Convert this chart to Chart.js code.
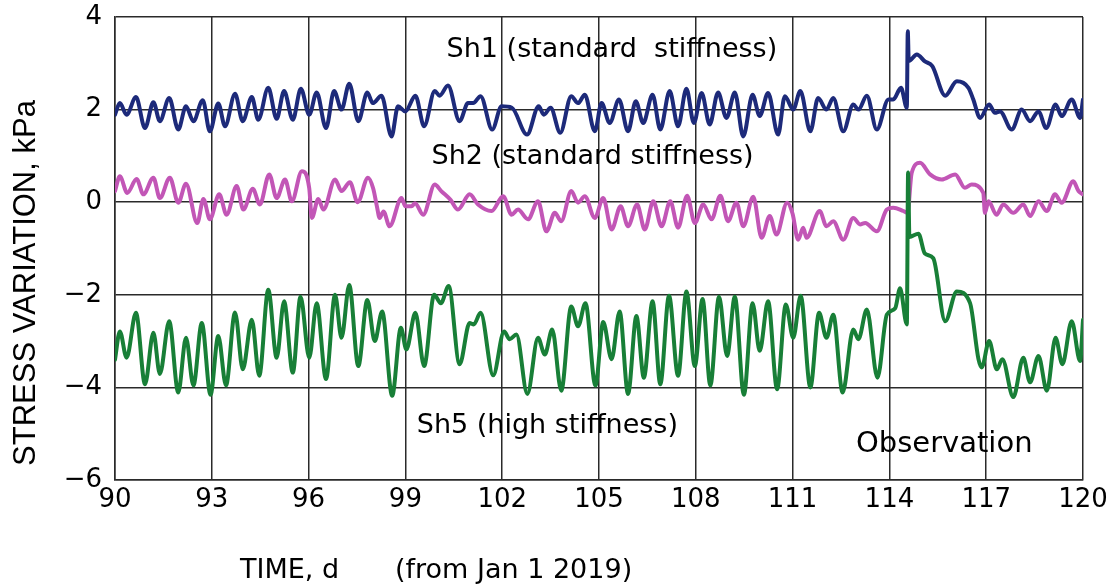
<!DOCTYPE html>
<html>
<head>
<meta charset="utf-8">
<script src="https://cdn.jsdelivr.net/npm/chart.js@4.4.1/dist/chart.umd.min.js"></script>
<style>
  html, body { margin: 0; padding: 0; background: #fff; }
  #wrap { width: 1113px; height: 584px; }
</style>
</head>
<body>
<div id="wrap"><canvas id="stressChart" width="1113" height="584"></canvas></div>
<script>
// values (day, kPa)
const sh1Days = [90.0, 90.15, 90.36, 90.65, 90.93, 91.19, 91.39, 91.68, 91.96, 92.2, 92.43, 92.72, 92.94, 93.2, 93.41, 93.72, 93.96, 94.24, 94.44, 94.75, 95.01, 95.24, 95.51, 95.76, 96.02, 96.25, 96.54, 96.79, 97.02, 97.26, 97.54, 97.82, 97.99, 98.26, 98.57, 98.77, 99.0, 99.31, 99.58, 99.91, 100.06, 100.32, 100.68, 100.94, 101.1, 101.33, 101.69, 101.98, 102.3, 102.77, 103.13, 103.29, 103.5, 103.8, 104.14, 104.35, 104.56, 104.87, 105.08, 105.33, 105.62, 105.9, 106.14, 106.37, 106.66, 106.9, 107.19, 107.45, 107.71, 107.94, 108.18, 108.43, 108.69, 108.95, 109.21, 109.47, 109.76, 109.98, 110.24, 110.55, 110.76, 111.02, 111.24, 111.55, 111.79, 112.05, 112.26, 112.57, 112.88, 113.04, 113.3, 113.61, 113.97, 114.12, 114.36, 114.54, 114.57, 114.6, 114.85, 115.1, 115.33, 115.73, 116.09, 116.45, 116.6, 116.81, 117.09, 117.27, 117.43, 117.79, 118.1, 118.36, 118.62, 118.86, 119.15, 119.34, 119.65, 119.91, 120.0];
const sh1Vals = [1.89, 2.14, 1.89, 2.27, 1.6, 2.16, 1.75, 2.25, 1.57, 2.07, 1.75, 2.2, 1.53, 2.13, 1.64, 2.34, 1.75, 2.27, 1.78, 2.47, 1.8, 2.4, 1.78, 2.45, 1.89, 2.37, 1.6, 2.4, 2.0, 2.56, 1.75, 2.37, 2.14, 2.3, 1.42, 2.07, 1.96, 2.3, 1.64, 2.4, 2.3, 2.52, 1.75, 2.14, 2.14, 2.29, 1.57, 2.07, 2.04, 1.46, 2.07, 1.89, 2.04, 1.5, 2.29, 2.14, 2.32, 1.53, 2.14, 1.71, 2.22, 1.53, 2.18, 1.71, 2.32, 1.57, 2.4, 1.64, 2.45, 1.71, 2.36, 1.68, 2.37, 1.82, 2.37, 1.42, 2.32, 1.86, 2.36, 1.46, 2.29, 2.0, 2.4, 1.53, 2.25, 2.0, 2.25, 1.53, 2.11, 2.0, 2.3, 1.57, 2.22, 2.22, 2.47, 2.04, 3.69, 3.05, 3.19, 3.04, 2.94, 2.3, 2.61, 2.47, 2.22, 1.82, 2.11, 1.93, 1.96, 1.57, 2.0, 1.75, 1.96, 1.6, 2.11, 1.86, 2.22, 1.82, 2.22];

const sh2Days = [90.0, 90.15, 90.38, 90.67, 90.88, 91.19, 91.39, 91.7, 91.96, 92.2, 92.55, 92.74, 92.94, 93.23, 93.46, 93.77, 93.98, 94.27, 94.49, 94.78, 95.01, 95.27, 95.48, 95.79, 96.02, 96.1, 96.3, 96.46, 96.82, 97.02, 97.28, 97.52, 97.84, 98.0, 98.12, 98.2, 98.32, 98.51, 98.88, 99.0, 99.19, 99.3, 99.55, 99.91, 100.11, 100.4, 100.63, 100.99, 101.25, 101.67, 102.03, 102.29, 102.49, 102.8, 103.11, 103.37, 103.63, 103.83, 104.14, 104.35, 104.56, 104.87, 105.13, 105.39, 105.67, 105.9, 106.18, 106.42, 106.68, 106.94, 107.21, 107.45, 107.73, 107.97, 108.23, 108.49, 108.76, 109.0, 109.26, 109.47, 109.78, 110.04, 110.29, 110.5, 110.83, 111.0, 111.17, 111.33, 111.43, 111.84, 112.05, 112.26, 112.57, 112.88, 113.09, 113.25, 113.61, 113.92, 114.12, 114.43, 114.56, 114.69, 114.95, 115.26, 115.62, 116.04, 116.34, 116.55, 116.91, 116.96, 117.07, 117.32, 117.53, 117.84, 118.15, 118.36, 118.62, 118.88, 119.13, 119.34, 119.7, 119.86, 120.0];
const sh2Vals = [0.24, 0.56, 0.2, 0.5, 0.17, 0.53, 0.09, 0.53, -0.01, 0.4, -0.45, 0.07, -0.37, 0.17, -0.27, 0.35, -0.16, 0.29, -0.05, 0.6, 0.09, 0.49, 0.02, 0.67, 0.3, -0.34, 0.07, -0.16, 0.49, 0.24, 0.43, 0.0, 0.53, 0.3, -0.1, -0.34, -0.2, -0.52, 0.09, -0.09, -0.09, -0.02, -0.27, 0.38, 0.24, 0.05, -0.16, 0.17, -0.05, -0.19, 0.13, -0.27, -0.16, -0.37, 0.02, -0.63, -0.23, -0.41, 0.24, -0.01, 0.13, -0.34, 0.09, -0.59, -0.09, -0.52, -0.05, -0.59, 0.02, -0.52, 0.02, -0.55, 0.14, -0.45, -0.05, -0.37, 0.14, -0.41, -0.01, -0.52, 0.12, -0.77, -0.3, -0.7, -0.01, -0.25, -0.81, -0.55, -0.77, -0.19, -0.52, -0.41, -0.81, -0.34, -0.48, -0.45, -0.63, -0.16, -0.12, -0.19, -0.23, 0.63, 0.85, 0.6, 0.49, 0.6, 0.31, 0.38, 0.2, -0.23, 0.02, -0.27, -0.05, -0.23, -0.05, -0.3, 0.02, -0.19, 0.17, -0.01, 0.45, 0.24, 0.17];

const sh5Days = [90.0, 90.15, 90.36, 90.65, 90.93, 91.19, 91.39, 91.68, 91.96, 92.2, 92.43, 92.69, 92.96, 93.2, 93.44, 93.72, 93.96, 94.24, 94.47, 94.75, 95.01, 95.24, 95.51, 95.75, 96.02, 96.25, 96.54, 96.82, 97.02, 97.26, 97.54, 97.82, 98.05, 98.28, 98.59, 98.86, 99.03, 99.31, 99.58, 99.89, 100.1, 100.34, 100.68, 100.99, 101.12, 101.33, 101.72, 102.06, 102.23, 102.44, 102.78, 103.11, 103.32, 103.55, 103.83, 104.14, 104.35, 104.58, 104.89, 105.13, 105.39, 105.64, 105.9, 106.16, 106.39, 106.66, 106.9, 107.17, 107.45, 107.71, 107.97, 108.21, 108.45, 108.72, 108.97, 109.21, 109.49, 109.76, 109.98, 110.24, 110.52, 110.79, 111.02, 111.25, 111.55, 111.82, 112.05, 112.26, 112.55, 112.88, 113.04, 113.3, 113.63, 113.92, 114.18, 114.33, 114.54, 114.58, 114.62, 114.9, 115.1, 115.36, 115.73, 116.09, 116.5, 116.76, 116.86, 117.09, 117.33, 117.5, 117.84, 118.15, 118.36, 118.62, 118.88, 119.15, 119.36, 119.65, 119.91, 120.0];
const sh5Vals = [-3.4, -2.79, -3.36, -2.39, -3.93, -2.82, -3.71, -2.57, -4.11, -2.93, -3.96, -2.61, -4.16, -2.89, -3.96, -2.38, -3.61, -2.54, -3.75, -1.89, -3.36, -2.14, -3.68, -2.04, -3.36, -2.18, -3.82, -2.0, -2.93, -1.79, -3.54, -2.11, -3.0, -2.36, -4.18, -2.71, -3.18, -2.39, -3.54, -2.0, -2.18, -1.81, -3.5, -2.61, -2.64, -2.39, -3.74, -2.79, -2.96, -2.86, -4.14, -2.93, -3.29, -2.75, -4.07, -2.25, -2.68, -2.18, -3.96, -2.59, -3.39, -2.36, -4.14, -2.46, -3.79, -2.14, -3.93, -2.02, -3.75, -1.93, -3.54, -2.09, -3.96, -2.04, -3.32, -2.04, -4.16, -2.18, -3.21, -2.14, -4.04, -2.21, -2.93, -2.02, -4.0, -2.39, -2.93, -2.43, -4.11, -2.75, -2.96, -2.32, -3.79, -2.43, -2.29, -1.86, -2.64, 0.64, -0.75, -0.68, -1.11, -1.21, -2.57, -1.93, -2.18, -3.39, -3.57, -3.0, -3.61, -3.39, -4.21, -3.36, -3.89, -3.32, -4.07, -2.93, -3.5, -2.57, -3.43, -2.54];

const xTicks = [90, 93, 96, 99, 102, 105, 108, 111, 114, 117, 120];
const yTicks = [-6, -4, -2, 0, 2, 4];

const toPoints = (days, vals) => days.map((d, i) => ({ x: d, y: vals[i] }));

const sans = '"DejaVu Sans", Arial, sans-serif';
const tickFont = { family: sans, size: 26 };

// extra text: series notes and axis titles
const labelPlugin = {
  id: 'labels',
  afterDraw(chart) {
    const { ctx, scales: { x, y } } = chart;
    ctx.save();
    ctx.fillStyle = '#000';
    ctx.textBaseline = 'middle';
    ctx.textAlign = 'center';
    ctx.font = '27px ' + sans;
    ctx.fillText('Sh1 (standard  stiffness)', x.getPixelForValue(105.4), y.getPixelForValue(3.29));
    ctx.fillText('Sh2 (standard stiffness)', x.getPixelForValue(104.8), y.getPixelForValue(0.98));
    ctx.fillText('Sh5 (high stiffness)', x.getPixelForValue(103.4), y.getPixelForValue(-4.83));
    ctx.font = '29px ' + sans;
    ctx.fillText('Observation', x.getPixelForValue(115.7), y.getPixelForValue(-5.23));

    ctx.font = '27px ' + sans;
    ctx.textAlign = 'left';
    ctx.fillText('TIME, d', 240, 571);
    ctx.fillText('(from Jan 1 2019)', 395, 571);

    ctx.font = '31px "Liberation Sans", Arial, sans-serif';
    ctx.translate(26, 283);
    ctx.rotate(-Math.PI / 2);
    ctx.textAlign = 'center';
    ctx.fillText('STRESS VARIATION, kPa', 0, 0);
    ctx.restore();
  }
};

new Chart(document.getElementById('stressChart').getContext('2d'), {
  type: 'line',
  data: {
    datasets: [
      {
        label: 'Sh5',
        data: toPoints(sh5Days, sh5Vals),
        borderColor: '#187f37',
        borderWidth: 4
      },
      {
        label: 'Sh1',
        data: toPoints(sh1Days, sh1Vals),
        borderColor: '#1d2a7a',
        borderWidth: 4
      },
      {
        label: 'Sh2',
        data: toPoints(sh2Days, sh2Vals),
        borderColor: '#c256b6',
        borderWidth: 4
      }
    ]
  },
  options: {
    responsive: false,
    animation: false,
    layout: { padding: { top: 17, right: 30, left: 0, bottom: 0 } },
    elements: {
      point: { radius: 0 },
      line: { cubicInterpolationMode: 'monotone', borderJoinStyle: 'round', borderCapStyle: 'round' }
    },
    plugins: {
      legend: { display: false },
      tooltip: { enabled: false }
    },
    scales: {
      x: {
        type: 'linear',
        min: 90,
        max: 120,
        afterBuildTicks: s => { s.ticks = xTicks.map(v => ({ value: v })); },
        afterFit: s => { s.height = 104; s.paddingLeft = 0; s.paddingRight = 0; },
        ticks: { color: '#000', font: tickFont, padding: 5, maxRotation: 0 },
        grid: { color: '#2a2a2a', lineWidth: 1.5, drawTicks: false },
        border: { color: '#2a2a2a', width: 1.5 }
      },
      y: {
        min: -6,
        max: 4,
        afterBuildTicks: s => { s.ticks = yTicks.map(v => ({ value: v })); },
        afterFit: s => { s.width = 115; s.paddingTop = 0; s.paddingBottom = 0; },
        ticks: {
          color: '#000',
          font: tickFont,
          padding: 13,
          callback: v => (v < 0 ? '\u2212' + Math.abs(v) : String(v))
        },
        grid: { color: '#2a2a2a', lineWidth: 1.5, drawTicks: false },
        border: { color: '#2a2a2a', width: 1.5 }
      }
    }
  },
  plugins: [labelPlugin]
});
</script>
</body>
</html>
